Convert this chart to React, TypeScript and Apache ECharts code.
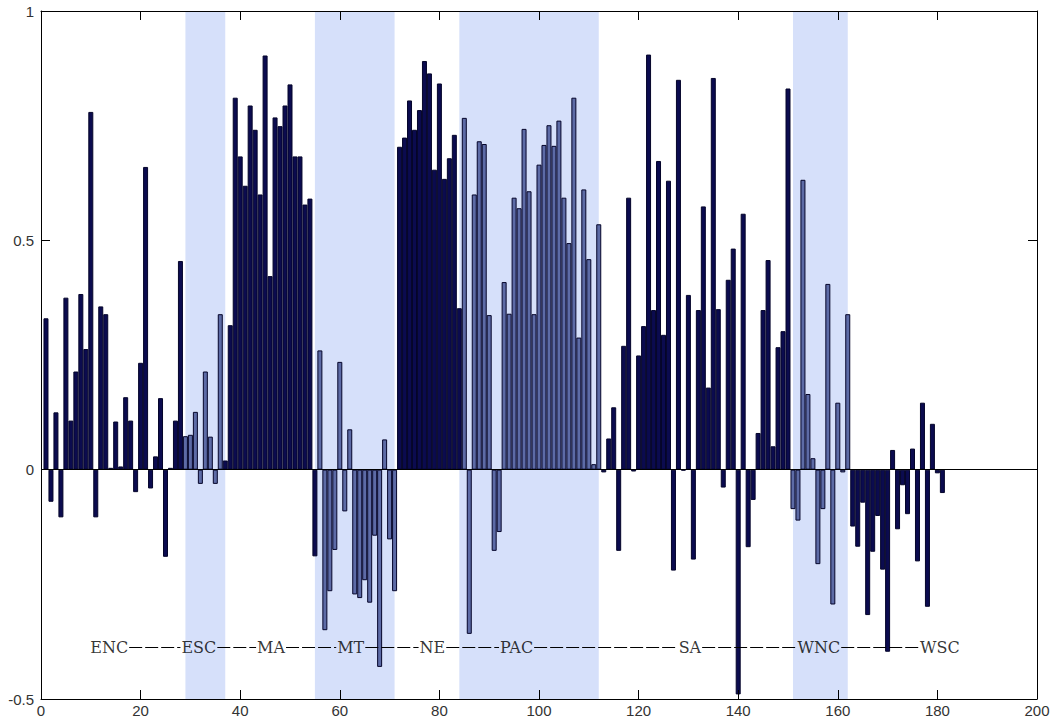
import React, { useEffect, useRef } from "react";
import * as echarts from "echarts";

// Bar values for observations 1..181
const values: number[] = [
  0.33, -0.07, 0.125, -0.104, 0.375, 0.107, 0.214, 0.383, 0.263, 0.78,
  -0.104, 0.356, 0.339, 0.004, 0.105, 0.007, 0.158, 0.107, -0.049, 0.233,
  0.66, -0.041, 0.029, 0.156, -0.19, 0.004, 0.107, 0.455, 0.073, 0.076,
  0.126, -0.031, 0.214, 0.072, -0.031, 0.339, 0.02, 0.315, 0.811, 0.683,
  0.619, 0.794, 0.741, 0.6, 0.903, 0.422, 0.768, 0.749, 0.794, 0.84,
  0.683, 0.683, 0.578, 0.591, -0.189, 0.26, -0.35, -0.265, -0.175, 0.235,
  -0.091, 0.088, -0.272, -0.28, -0.241, -0.29, -0.144, -0.43, 0.066, -0.152,
  -0.265, 0.704, 0.724, 0.805, 0.741, 0.784, 0.891, 0.864, 0.654, 0.842,
  0.634, 0.679, 0.73, 0.352, 0.767, -0.358, 0.6, 0.716, 0.71, 0.337,
  -0.177, -0.136, 0.409, 0.34, 0.593, 0.57, 0.743, 0.607, 0.339, 0.665,
  0.708, 0.751, 0.706, 0.761, 0.593, 0.494, 0.811, 0.288, 0.611, 0.459,
  0.012, 0.535, -0.006, 0.068, 0.136, -0.177, 0.27, 0.593, -0.004, 0.249,
  0.313, 0.905, 0.348, 0.673, 0.294, 0.63, -0.22, 0.85, -0.002, 0.381,
  -0.196, 0.348, 0.574, 0.179, 0.854, 0.35, -0.039, 0.414, 0.482, -0.49,
  0.558, -0.169, -0.066, 0.08, 0.348, 0.457, 0.051, 0.267, 0.302, 0.831,
  -0.086, -0.111, 0.632, 0.165, 0.025, -0.206, -0.086, 0.405, -0.294, 0.146,
  -0.006, 0.339, -0.124, -0.168, -0.072, -0.317, -0.179, -0.101, -0.218, -0.397,
  0.043, -0.13, -0.034, -0.097, 0.046, -0.2, 0.146, -0.299, 0.1, -0.008,
  -0.051,
];

// Region labels and their x anchors (data units)
const regionNames = ["ENC", "ESC", "MA", "MT", "NE", "PAC", "SA", "WNC", "WSC"];
const regionLabelX = [13.7, 31.7, 46.2, 62.2, 78.6, 95.5, 130.3, 156.2, 180.5];
const regionLabelY = -0.387;

// Shaded bands (x ranges) and the bars drawn in the lighter colour
const shadeStart = [29, 55, 84, 151];
const shadeEnd = [37, 71, 112, 162];
const lightFirst = [29, 56, 85, 151];
const lightLast = [36, 71, 112, 162];

// Axes
const xMin = 0;
const xMax = 200;
const xInterval = 20;
const yMin = -0.5;
const yMax = 1;
const yInterval = 0.5;

const DARK = "#0b0b4f";
const LIGHT = "#5d6ba6";
const SHADE = "#d6e0fa";

export default function App() {
  const ref = useRef<HTMLDivElement | null>(null);

  useEffect(() => {
    if (!ref.current) return;
    const chart = echarts.init(ref.current, null, { renderer: "svg" });

    const gridLeft = 41;
    const gridRight = 19;
    const plotWidth = 1056 - gridLeft - gridRight;
    const pxPerUnit = plotWidth / (xMax - xMin);

    const labelFontSize = 16;
    const labelFamily = '"DejaVu Serif"';
    const canvas = document.createElement("canvas");
    const ctx = canvas.getContext("2d");
    let halfW: number[] = regionNames.map((n) => (n.length * 13) / 2);
    if (ctx) {
      ctx.font = `${labelFontSize}px ${labelFamily}`;
      halfW = regionNames.map((n) => ctx.measureText(n).width / 2);
    }
    const halfUnits = halfW.map((w) => (w + 1) / pxPerUnit);

    const dashSegments: any[] = [];
    for (let k = 0; k < regionNames.length - 1; k++) {
      dashSegments.push([
        { coord: [regionLabelX[k] + halfUnits[k], regionLabelY] },
        { coord: [regionLabelX[k + 1] - halfUnits[k + 1], regionLabelY] },
      ]);
    }

    const isLight = (i: number) =>
      lightFirst.some((s, k) => i >= s && i <= lightLast[k]);

    const axisCommon = {
      type: "value" as const,
      z: 10,
      axisLine: { show: true, onZero: false, lineStyle: { color: "#000", width: 1 } },
      axisTick: { show: true, inside: true, length: 9, lineStyle: { color: "#000", width: 1 } },
      splitLine: { show: false },
    };
    const labelStyle = {
      color: "#333",
      fontSize: 15,
      fontFamily: '"Liberation Sans", Arial, sans-serif',
    };

    chart.setOption({
      animation: false,
      backgroundColor: "#fff",
      grid: { left: gridLeft, right: gridRight, top: 11, bottom: 26, containLabel: false },
      xAxis: [
        {
          ...axisCommon,
          position: "bottom",
          min: xMin,
          max: xMax,
          interval: xInterval,
          axisLabel: { ...labelStyle, margin: 4 },
        },
        {
          ...axisCommon,
          position: "top",
          min: xMin,
          max: xMax,
          interval: xInterval,
          axisLabel: { show: false },
        },
      ],
      yAxis: [
        {
          ...axisCommon,
          position: "left",
          min: yMin,
          max: yMax,
          interval: yInterval,
          axisLabel: { ...labelStyle, margin: 7 },
        },
        {
          ...axisCommon,
          position: "right",
          min: yMin,
          max: yMax,
          interval: yInterval,
          axisLabel: { show: false },
        },
      ],
      series: [
        {
          type: "line",
          data: [],
          z: 1,
          silent: true,
          markArea: {
            silent: true,
            itemStyle: { color: SHADE },
            data: shadeStart.map((s, k) => [{ xAxis: s }, { xAxis: shadeEnd[k] }]),
          },
        },
        {
          type: "bar",
          z: 3,
          barWidth: 5,
          silent: true,
          data: values.map((v, i) => ({
            value: [i + 1, v],
            itemStyle: { color: isLight(i + 1) ? LIGHT : DARK },
          })),
          itemStyle: { borderColor: "#05052a", borderWidth: 1 },
          markLine: {
            silent: true,
            symbol: "none",
            label: { show: false },
            lineStyle: { color: "#000", width: 1, type: "solid" },
            data: [{ yAxis: 0 }],
          },
        },
        {
          type: "scatter",
          z: 6,
          silent: true,
          symbol: "circle",
          symbolSize: 0,
          data: regionNames.map((n, i) => ({ name: n, value: [regionLabelX[i], regionLabelY] })),
          label: {
            show: true,
            position: "inside",
            formatter: "{b}",
            color: "#000",
            fontSize: labelFontSize,
            fontFamily: labelFamily,
          },
          markLine: {
            silent: true,
            symbol: "none",
            label: { show: false },
            lineStyle: { color: "#000", width: 1, type: [13, 3] },
            data: dashSegments,
          },
        },
      ],
    });

    return () => chart.dispose();
  }, []);

  return (
    <div
      ref={ref}
      style={{ position: "fixed", left: 0, top: 0, width: 1056, height: 725 }}
    />
  );
}
